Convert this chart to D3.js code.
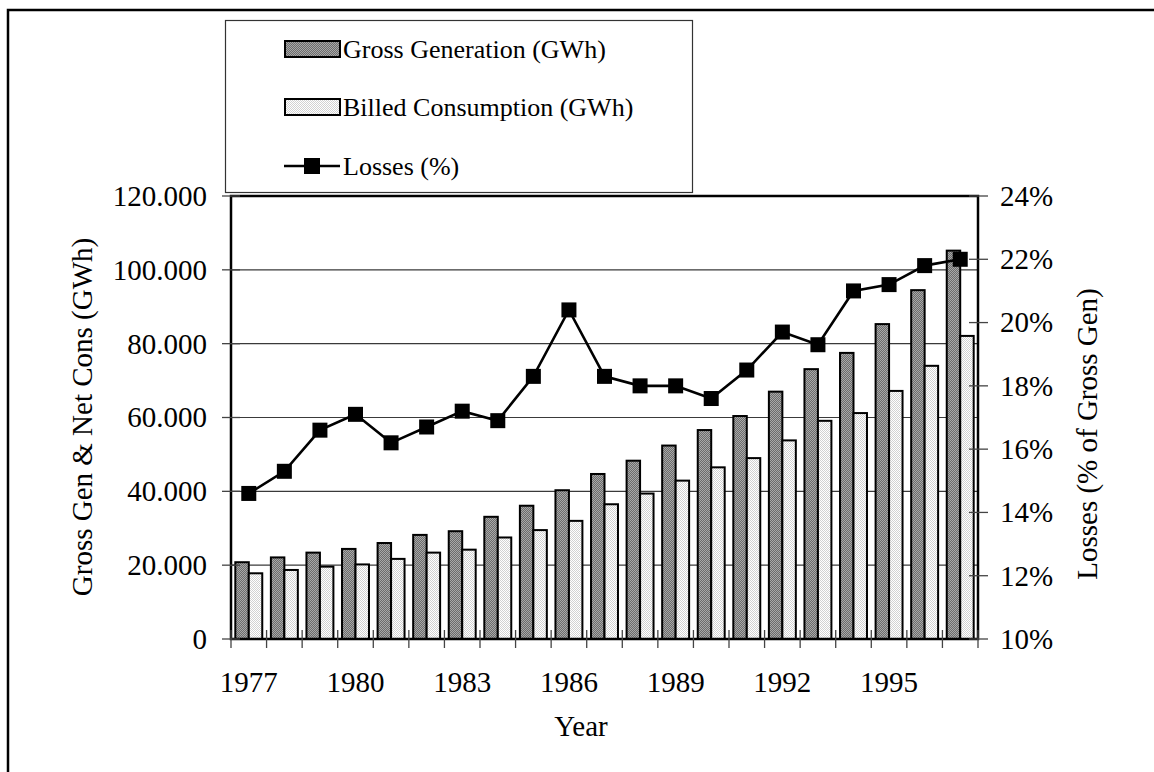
<!DOCTYPE html>
<html>
<head>
<meta charset="utf-8">
<script src="https://cdn.jsdelivr.net/npm/d3@7"></script>
<style>
  html, body { margin: 0; padding: 0; background: #fff; }
  svg { display: block; }
  text { font-family: "Liberation Serif", "Times New Roman", serif; fill: #000; }
</style>
</head>
<body>
<svg id="chart" width="1154" height="772"></svg>
<script>
// Electricity generation, billed consumption and losses, 1977-1997
const years = d3.range(1977, 1998);
const grossGeneration = [20800, 22100, 23400, 24400, 26000, 28200, 29200, 33100, 36100, 40300,
  44700, 48300, 52400, 56600, 60400, 67000, 73100, 77500, 85300, 94500, 105200];
const billedConsumption = [17800, 18700, 19600, 20200, 21700, 23400, 24200, 27500, 29500, 32000,
  36500, 39400, 42900, 46500, 49000, 53800, 59100, 61200, 67200, 74000, 82100];
const lossesPct = [14.6, 15.3, 16.6, 17.1, 16.2, 16.7, 17.2, 16.9, 18.3, 20.4,
  18.3, 18.0, 18.0, 17.6, 18.5, 19.7, 19.3, 21.0, 21.2, 21.8, 22.0];
const yearLabels = [1977, 1980, 1983, 1986, 1989, 1992, 1995];
const leftTicks = [0, 20000, 40000, 60000, 80000, 100000, 120000];
const rightTicks = [10, 12, 14, 16, 18, 20, 22, 24];
const seriesNames = ["Gross Generation (GWh)", "Billed Consumption (GWh)", "Losses (%)"];

const svg = d3.select("#chart");
const plot = { left: 231, right: 978, top: 196, bottom: 639 };

// patterns for the two bar series
const defs = svg.append("defs");
function checker(id, a, b) {
  const p = defs.append("pattern").attr("id", id).attr("width", 2).attr("height", 2)
    .attr("patternUnits", "userSpaceOnUse");
  p.append("rect").attr("width", 2).attr("height", 2).attr("fill", a);
  p.append("rect").attr("width", 1).attr("height", 1).attr("fill", b);
  p.append("rect").attr("x", 1).attr("y", 1).attr("width", 1).attr("height", 1).attr("fill", b);
}
checker("patGross", "#6c6c6c", "#a8a8a8");
checker("patBilled", "#ffffff", "#d2d2d2");

// outer frame
svg.append("rect").attr("x", 8).attr("y", 10).attr("width", 1170).attr("height", 800)
  .attr("fill", "none").attr("stroke", "#000").attr("stroke-width", 2.5);

// scales
const x = d3.scaleBand().domain(years).range([plot.left, plot.right]).padding(0);
const x1 = d3.scaleBand().domain(["gross", "billed"]).range([0, x.bandwidth()])
  .paddingInner(0).paddingOuter(0.32);
const yL = d3.scaleLinear().domain([0, 120000]).range([plot.bottom, plot.top]);
const yR = d3.scaleLinear().domain([10, 24]).range([plot.bottom, plot.top]);

const fmtLeft = d3.formatLocale({ decimal: ",", thousands: ".", grouping: [3], currency: ["", ""] }).format(",");

// gridlines
svg.append("g").selectAll("line").data(leftTicks.slice(1, -1)).join("line")
  .attr("x1", plot.left).attr("x2", plot.right)
  .attr("y1", d => yL(d)).attr("y2", d => yL(d))
  .attr("stroke", "#3a3a3a").attr("stroke-width", 1.2);

// bars
const rows = years.map((yr, i) => ({ yr, gross: grossGeneration[i], billed: billedConsumption[i] }));
const barG = svg.append("g");
["gross", "billed"].forEach(key => {
  barG.append("g").selectAll("rect").data(rows).join("rect")
    .attr("x", d => x(d.yr) + x1(key))
    .attr("y", d => yL(d[key]))
    .attr("width", x1.bandwidth())
    .attr("height", d => yL(0) - yL(d[key]))
    .attr("fill", key === "gross" ? "url(#patGross)" : "url(#patBilled)")
    .attr("stroke", "#000").attr("stroke-width", 2);
});

// plot border
svg.append("rect").attr("x", plot.left).attr("y", plot.top)
  .attr("width", plot.right - plot.left).attr("height", plot.bottom - plot.top)
  .attr("fill", "none").attr("stroke", "#000").attr("stroke-width", 2.5);

// left axis ticks and labels
const gl = svg.append("g");
gl.selectAll("line").data(leftTicks).join("line")
  .attr("x1", plot.left - 9).attr("x2", plot.left + 9)
  .attr("y1", d => yL(d)).attr("y2", d => yL(d))
  .attr("stroke", "#444").attr("stroke-width", 1.3);
gl.selectAll("text").data(leftTicks).join("text")
  .attr("x", 207).attr("y", d => yL(d)).attr("dy", "0.34em")
  .attr("text-anchor", "end").attr("font-size", 29)
  .text(d => fmtLeft(d));

// right axis ticks and labels
const gr = svg.append("g");
gr.selectAll("line").data(rightTicks).join("line")
  .attr("x1", plot.right - 9).attr("x2", plot.right + 10)
  .attr("y1", d => yR(d)).attr("y2", d => yR(d))
  .attr("stroke", "#444").attr("stroke-width", 1.3);
gr.selectAll("text").data(rightTicks).join("text")
  .attr("x", 1000).attr("y", d => yR(d)).attr("dy", "0.34em")
  .attr("text-anchor", "start").attr("font-size", 29)
  .text(d => d + "%");

// x axis ticks between categories and year labels
const xt = years.map(d => x(d)).concat([plot.right]);
svg.append("g").selectAll("line").data(xt).join("line")
  .attr("x1", d => d).attr("x2", d => d)
  .attr("y1", plot.bottom - 9).attr("y2", plot.bottom + 9)
  .attr("stroke", "#444").attr("stroke-width", 1.3);
svg.append("g").selectAll("text").data(yearLabels).join("text")
  .attr("x", d => x(d) + x.bandwidth() / 2).attr("y", 692)
  .attr("text-anchor", "middle").attr("font-size", 29)
  .text(d => d);

// losses line with square markers
const line = d3.line().x((d, i) => x(years[i]) + x.bandwidth() / 2).y(d => yR(d));
svg.append("path").datum(lossesPct).attr("d", line)
  .attr("fill", "none").attr("stroke", "#000").attr("stroke-width", 2.6);
svg.append("g").selectAll("rect").data(lossesPct).join("rect")
  .attr("x", (d, i) => x(years[i]) + x.bandwidth() / 2 - 7.5)
  .attr("y", d => yR(d) - 7.5)
  .attr("width", 15).attr("height", 15).attr("fill", "#000");

// axis titles
svg.append("text").attr("x", 581).attr("y", 736).attr("text-anchor", "middle")
  .attr("font-size", 29).text("Year");
svg.append("text").attr("transform", "translate(92,417) rotate(-90)")
  .attr("text-anchor", "middle").attr("font-size", 29).text("Gross Gen & Net Cons (GWh)");
svg.append("text").attr("transform", "translate(1097,434) rotate(-90)")
  .attr("text-anchor", "middle").attr("font-size", 29).text("Losses (% of Gross Gen)");

// legend
const lg = svg.append("g");
lg.append("rect").attr("x", 225.5).attr("y", 20.5).attr("width", 467).attr("height", 172)
  .attr("fill", "#fff").attr("stroke", "#333").attr("stroke-width", 1.2);
lg.append("rect").attr("x", 285).attr("y", 41).attr("width", 55).attr("height", 16)
  .attr("fill", "url(#patGross)").attr("stroke", "#000").attr("stroke-width", 2);
lg.append("rect").attr("x", 285).attr("y", 99).attr("width", 55).attr("height", 16)
  .attr("fill", "url(#patBilled)").attr("stroke", "#000").attr("stroke-width", 2);
lg.append("line").attr("x1", 284).attr("x2", 340).attr("y1", 166).attr("y2", 166)
  .attr("stroke", "#000").attr("stroke-width", 2.6);
lg.append("rect").attr("x", 304).attr("y", 158).attr("width", 16).attr("height", 16).attr("fill", "#000");
lg.selectAll("text").data(seriesNames).join("text")
  .attr("x", 343).attr("y", (d, i) => [58, 116, 175][i])
  .attr("font-size", 26).text(d => d);
</script>
</body>
</html>
